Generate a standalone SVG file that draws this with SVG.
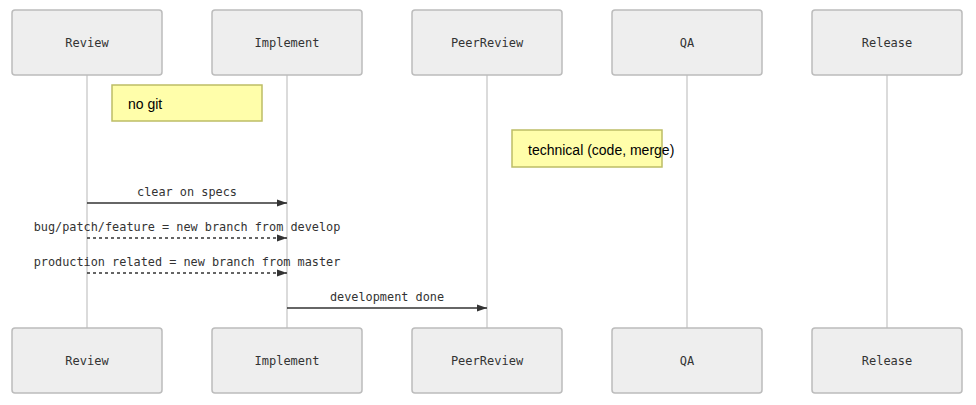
<svg xmlns="http://www.w3.org/2000/svg" width="976" height="405" viewBox="0 0 976 405">
<style>
.actor rect{fill:#eeeeee;stroke:#bcbcbc;stroke-width:1.5}
.actor text{font-family:"DejaVu Sans Mono","Liberation Mono",monospace;font-size:12px;fill:#333;text-anchor:middle;dominant-baseline:central}
.life{stroke:#cfcfcf;stroke-width:1.5}
.note rect{fill:#fffeaa;stroke:#bdbd66;stroke-width:1.5}
.note text{font-family:"Liberation Sans",Arial,sans-serif;font-size:14px;fill:#000;dominant-baseline:central}
.msg{stroke:#333;stroke-width:1.5;fill:none}
.dash{stroke-dasharray:3,3}
.mtext{font-family:"DejaVu Sans Mono","Liberation Mono",monospace;font-size:11.85px;fill:#333;text-anchor:middle}
</style>
<defs>
<marker id="ah" viewBox="0 0 10 8" refX="10" refY="4" markerWidth="10" markerHeight="8" markerUnits="userSpaceOnUse" orient="auto">
<path d="M0,0.5 L10,4 L0,7.5 z" fill="#333"/>
</marker>
</defs>
<g id="lifelines">
<line class="life" x1="87" y1="75" x2="87" y2="328"/>
<line class="life" x1="287" y1="75" x2="287" y2="328"/>
<line class="life" x1="487" y1="75" x2="487" y2="328"/>
<line class="life" x1="687" y1="75" x2="687" y2="328"/>
<line class="life" x1="887" y1="75" x2="887" y2="328"/>
</g>
<g id="Review" class="actor"><rect x="12" y="10" width="150" height="65" rx="3"/><text x="87" y="43">Review</text></g>
<g id="Implement" class="actor"><rect x="212" y="10" width="150" height="65" rx="3"/><text x="287" y="43">Implement</text></g>
<g id="PeerReview" class="actor"><rect x="412" y="10" width="150" height="65" rx="3"/><text x="487" y="43">PeerReview</text></g>
<g id="QA" class="actor"><rect x="612" y="10" width="150" height="65" rx="3"/><text x="687" y="43">QA</text></g>
<g id="Release" class="actor"><rect x="812" y="10" width="150" height="65" rx="3"/><text x="887" y="43">Release</text></g>
<g id="Review_bottom" class="actor"><rect x="12" y="328" width="150" height="65" rx="3"/><text x="87" y="361">Review</text></g>
<g id="Implement_bottom" class="actor"><rect x="212" y="328" width="150" height="65" rx="3"/><text x="287" y="361">Implement</text></g>
<g id="PeerReview_bottom" class="actor"><rect x="412" y="328" width="150" height="65" rx="3"/><text x="487" y="361">PeerReview</text></g>
<g id="QA_bottom" class="actor"><rect x="612" y="328" width="150" height="65" rx="3"/><text x="687" y="361">QA</text></g>
<g id="Release_bottom" class="actor"><rect x="812" y="328" width="150" height="65" rx="3"/><text x="887" y="361">Release</text></g>
<g id="note1" class="note"><rect x="112" y="85" width="150" height="36"/><text x="128" y="104">no git</text></g>
<g id="note2" class="note"><rect x="512" y="130" width="150" height="37"/><text x="528" y="149.5">technical (code, merge)</text></g>
<g id="connectors">
<line class="msg" x1="87" y1="203" x2="287" y2="203" marker-end="url(#ah)"/>
<text class="mtext" x="187" y="196">clear on specs</text>
<line class="msg dash" x1="87" y1="238" x2="287" y2="238" marker-end="url(#ah)"/>
<text class="mtext" x="187" y="231">bug/patch/feature = new branch from develop</text>
<line class="msg dash" x1="87" y1="273" x2="287" y2="273" marker-end="url(#ah)"/>
<text class="mtext" x="187" y="266">production related = new branch from master</text>
<line class="msg" x1="287" y1="308" x2="487" y2="308" marker-end="url(#ah)"/>
<text class="mtext" x="387" y="301">development done</text>
</g>
</svg>
